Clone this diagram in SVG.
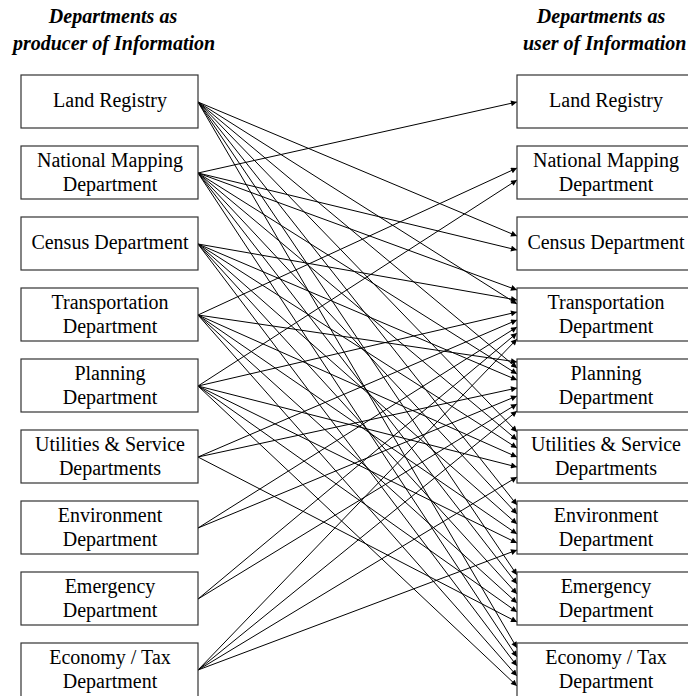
<svg xmlns="http://www.w3.org/2000/svg" width="688" height="696" viewBox="0 0 688 696">
<defs>
<marker id="ah" viewBox="0 0 10 10" refX="10" refY="5" markerWidth="8" markerHeight="6" markerUnits="userSpaceOnUse" orient="auto">
<path d="M0,0 L10,5 L0,10 z" fill="#000"/>
</marker>
<style>
.box{fill:#fff;stroke:#333;stroke-width:1.2}
.lbl{font-family:"Liberation Serif","Times New Roman",serif;font-size:20px;fill:#000;text-anchor:middle}
.ttl{font-family:"Liberation Serif","Times New Roman",serif;font-size:20px;font-weight:bold;font-style:italic;fill:#000}
.c line{stroke:#000;stroke-width:1;marker-end:url(#ah)}
</style>
</defs>
<rect width="688" height="696" fill="#fff"/>
<g id="titles">
<text class="ttl" x="113" y="23" text-anchor="middle">Departments as</text>
<text class="ttl" x="114" y="50" text-anchor="middle">producer of Information</text>
<text class="ttl" x="601" y="23" text-anchor="middle">Departments as</text>
<text class="ttl" x="523" y="50">user of Information</text>
</g>
<g id="connectors" class="c">
<line x1="198" y1="102" x2="517" y2="236"/>
<line x1="198" y1="102" x2="517" y2="304"/>
<line x1="198" y1="102" x2="517" y2="368"/>
<line x1="198" y1="102" x2="517" y2="432"/>
<line x1="198" y1="102" x2="517" y2="505"/>
<line x1="198" y1="102" x2="517" y2="575"/>
<line x1="198" y1="102" x2="517" y2="648"/>
<line x1="198" y1="173" x2="517" y2="102"/>
<line x1="198" y1="173" x2="517" y2="250"/>
<line x1="198" y1="173" x2="517" y2="290"/>
<line x1="198" y1="173" x2="517" y2="374"/>
<line x1="198" y1="173" x2="517" y2="440"/>
<line x1="198" y1="173" x2="517" y2="514"/>
<line x1="198" y1="173" x2="517" y2="584"/>
<line x1="198" y1="173" x2="517" y2="657"/>
<line x1="198" y1="244" x2="517" y2="300"/>
<line x1="198" y1="244" x2="517" y2="380"/>
<line x1="198" y1="244" x2="517" y2="448"/>
<line x1="198" y1="244" x2="517" y2="524"/>
<line x1="198" y1="244" x2="517" y2="594"/>
<line x1="198" y1="244" x2="517" y2="666"/>
<line x1="198" y1="315" x2="517" y2="168"/>
<line x1="198" y1="315" x2="517" y2="362"/>
<line x1="198" y1="315" x2="517" y2="457"/>
<line x1="198" y1="315" x2="517" y2="534"/>
<line x1="198" y1="315" x2="517" y2="603"/>
<line x1="198" y1="315" x2="517" y2="676"/>
<line x1="198" y1="386" x2="517" y2="180"/>
<line x1="198" y1="386" x2="517" y2="312"/>
<line x1="198" y1="386" x2="517" y2="467"/>
<line x1="198" y1="386" x2="517" y2="543"/>
<line x1="198" y1="386" x2="517" y2="612"/>
<line x1="198" y1="386" x2="517" y2="686"/>
<line x1="198" y1="457" x2="517" y2="320"/>
<line x1="198" y1="457" x2="517" y2="388"/>
<line x1="198" y1="457" x2="517" y2="622"/>
<line x1="198" y1="528" x2="517" y2="327"/>
<line x1="198" y1="528" x2="517" y2="396"/>
<line x1="198" y1="599" x2="517" y2="333"/>
<line x1="198" y1="599" x2="517" y2="404"/>
<line x1="198" y1="670" x2="517" y2="339"/>
<line x1="198" y1="670" x2="517" y2="411"/>
<line x1="198" y1="670" x2="517" y2="477"/>
<line x1="198" y1="670" x2="517" y2="550"/>
</g>
<g id="prod-land"><rect class="box" x="21" y="75" width="177" height="53"/><text class="lbl" x="110" y="107">Land Registry</text></g>
<g id="prod-mapping"><rect class="box" x="21" y="146" width="177" height="53"/><text class="lbl" x="110" y="167">National Mapping</text><text class="lbl" x="110" y="191">Department</text></g>
<g id="prod-census"><rect class="box" x="21" y="217" width="177" height="53"/><text class="lbl" x="110" y="249">Census Department</text></g>
<g id="prod-transport"><rect class="box" x="21" y="288" width="177" height="53"/><text class="lbl" x="110" y="309">Transportation</text><text class="lbl" x="110" y="333">Department</text></g>
<g id="prod-planning"><rect class="box" x="21" y="359" width="177" height="53"/><text class="lbl" x="110" y="380">Planning</text><text class="lbl" x="110" y="404">Department</text></g>
<g id="prod-utilities"><rect class="box" x="21" y="430" width="177" height="53"/><text class="lbl" x="110" y="451">Utilities &amp; Service</text><text class="lbl" x="110" y="475">Departments</text></g>
<g id="prod-environment"><rect class="box" x="21" y="501" width="177" height="53"/><text class="lbl" x="110" y="522">Environment</text><text class="lbl" x="110" y="546">Department</text></g>
<g id="prod-emergency"><rect class="box" x="21" y="572" width="177" height="53"/><text class="lbl" x="110" y="593">Emergency</text><text class="lbl" x="110" y="617">Department</text></g>
<g id="prod-economy"><rect class="box" x="21" y="643" width="177" height="60"/><text class="lbl" x="110" y="664">Economy / Tax</text><text class="lbl" x="110" y="688">Department</text></g>
<g id="user-land"><rect class="box" x="517" y="75" width="177" height="53"/><text class="lbl" x="606" y="107">Land Registry</text></g>
<g id="user-mapping"><rect class="box" x="517" y="146" width="177" height="53"/><text class="lbl" x="606" y="167">National Mapping</text><text class="lbl" x="606" y="191">Department</text></g>
<g id="user-census"><rect class="box" x="517" y="217" width="177" height="53"/><text class="lbl" x="606" y="249">Census Department</text></g>
<g id="user-transport"><rect class="box" x="517" y="288" width="177" height="53"/><text class="lbl" x="606" y="309">Transportation</text><text class="lbl" x="606" y="333">Department</text></g>
<g id="user-planning"><rect class="box" x="517" y="359" width="177" height="53"/><text class="lbl" x="606" y="380">Planning</text><text class="lbl" x="606" y="404">Department</text></g>
<g id="user-utilities"><rect class="box" x="517" y="430" width="177" height="53"/><text class="lbl" x="606" y="451">Utilities &amp; Service</text><text class="lbl" x="606" y="475">Departments</text></g>
<g id="user-environment"><rect class="box" x="517" y="501" width="177" height="53"/><text class="lbl" x="606" y="522">Environment</text><text class="lbl" x="606" y="546">Department</text></g>
<g id="user-emergency"><rect class="box" x="517" y="572" width="177" height="53"/><text class="lbl" x="606" y="593">Emergency</text><text class="lbl" x="606" y="617">Department</text></g>
<g id="user-economy"><rect class="box" x="517" y="643" width="177" height="60"/><text class="lbl" x="606" y="664">Economy / Tax</text><text class="lbl" x="606" y="688">Department</text></g>
</svg>
